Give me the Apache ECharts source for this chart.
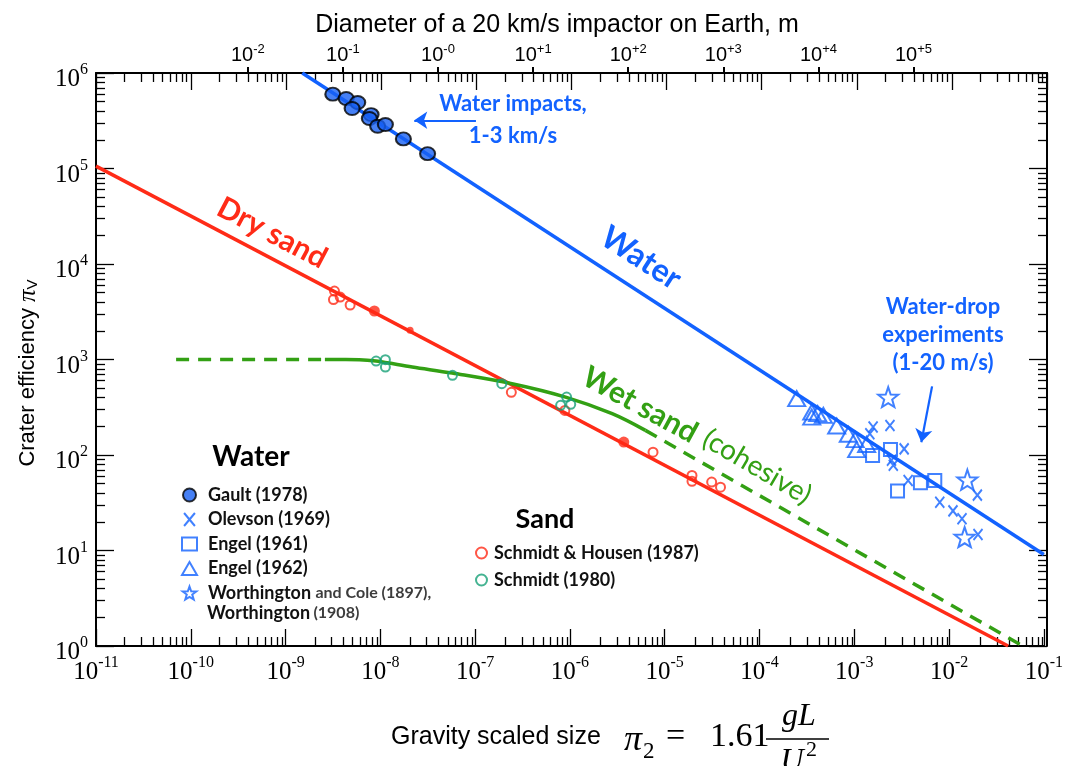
<!DOCTYPE html>
<html>
<head>
<meta charset="utf-8">
<script src="https://cdn.jsdelivr.net/npm/echarts@6/dist/echarts.min.js"></script>
<style>
  html, body { margin: 0; padding: 0; background: #fff; }
  #chart { width: 1066px; height: 766px; }
</style>
</head>
<body>
<div id="chart"></div>
<script>
// Crater efficiency pi_V against gravity-scaled size pi_2 (log-log),
// for water and sand targets, with the matching impactor diameter on top.

// ---- tick labels ----
const bottomTickExponents = [-11, -10, -9, -8, -7, -6, -5, -4, -3, -2, -1];
const leftTickExponents = [0, 1, 2, 3, 4, 5, 6];
const diameterTickExponents = [-2, -1, 0, 1, 2, 3, 4, 5];
const diameterTickLabels = ['-2', '-1', '-0', '+1', '+2', '+3', '+4', '+5'];

// ---- fitted curves [pi2, piV] ----
const waterFit = [[1.5e-9, 1.0e6], [1e-1, 9.1]];
const drySandFit = [[1e-11, 1.06e5], [0.042, 1.0]];
const wetSandFlat = [[7e-11, 1000], [2.6e-9, 1000]];
const wetSandCurve = [[2.6e-9, 1000], [6.0e-9, 996], [9.0e-9, 964], [2.17e-8, 834], [5.73e-8, 721],
  [2.45e-7, 558], [9.0e-7, 404], [2.79e-6, 271], [6.26e-6, 181]];
const wetSandExtrapolated = [[6.26e-6, 181], [0.060, 1.0]];

// ---- water data ----
const gault1978 = [[3.15e-9, 6.0e5], [4.36e-9, 5.41e5], [5.77e-9, 4.91e5], [5.04e-9, 4.25e5],
  [7.98e-9, 3.67e5], [7.66e-9, 3.34e5], [9.37e-9, 2.77e5], [1.13e-8, 2.89e5], [1.75e-8, 2.04e5], [3.15e-8, 1.43e5]];
const olevson1969 = [[1.58e-3, 196], [1.46e-3, 167], [2.38e-3, 204], [3.36e-3, 116], [2.47e-3, 88],
  [2.58e-3, 78], [3.70e-3, 54], [7.98e-3, 32], [1.10e-2, 26], [1.37e-2, 21.5], [1.99e-2, 38], [2.02e-2, 14.7]];
const engel1961 = [[1.56e-3, 99], [2.41e-3, 114], [2.86e-3, 41.9], [4.99e-3, 51.3], [7.07e-3, 54.2]];
const engel1962 = [[2.47e-4, 389], [3.56e-4, 281], [3.56e-4, 249], [4.11e-4, 271], [4.72e-4, 260],
  [6.52e-4, 201], [8.65e-4, 165], [1.02e-3, 145], [1.06e-3, 114], [1.35e-3, 129]];
const worthington = [[2.28e-3, 404], [1.56e-2, 55], [1.46e-2, 13.8]];

// ---- sand data ----
const schmidtHousen1987 = [[3.28e-9, 5210], [3.20e-9, 4240], [3.77e-9, 4510], [4.80e-9, 3720],
  [2.41e-7, 453], [8.85e-7, 293], [7.53e-6, 107], [1.94e-5, 61], [1.94e-5, 53], [3.13e-5, 52], [3.88e-5, 46]];
const drySandLarge = [[8.65e-9, 3220], [3.70e-6, 136.5]];
const drySandSmall = [[2.06e-8, 2020]];
const schmidt1980 = [[9.02e-9, 963], [1.13e-8, 996], [1.13e-8, 834], [5.77e-8, 682], [1.91e-7, 558],
  [9.23e-7, 404], [7.98e-7, 331], [1.02e-6, 339]];

// ---- annotation arrows [from, to] ----
const impactArrow = [[1.02e-7, 3.2e5], [2.28e-8, 3.2e5]];
const dropArrow = [[6.62e-3, 523], [5.1e-3, 136]];

// pi2 = 1.61 g L / U^2 for a 20 km/s impactor on Earth
const PI2_PER_METRE = 1.61 * 9.81 / (20000 * 20000);

const toLog = pts => pts.map(([x, y]) => [Math.log10(x), Math.log10(y)]);

const SERIF = "'Liberation Serif', 'DejaVu Serif', serif";
const SANS = "'Liberation Sans', Arial, sans-serif";
const HUM = "Lato, 'Open Sans', sans-serif";
const BLUE = '#1262ff', RED = '#ff2b17', GREEN = '#33a014', TEAL = '#17a077';

function minorTicks(lo, hi) {
  const out = [];
  for (let k = lo; k < hi; k++) for (let m = 2; m <= 9; m++) out.push(k + Math.log10(m));
  return out;
}
const xMin = bottomTickExponents[0], xMax = bottomTickExponents[bottomTickExponents.length - 1];
const yMin = leftTickExponents[0], yMax = leftTickExponents[leftTickExponents.length - 1];

const powerRich = {
  b: { fontFamily: SERIF, fontSize: 25, lineHeight: 30, verticalAlign: 'bottom', color: '#000' },
  s: { fontFamily: SERIF, fontSize: 16, lineHeight: 14, verticalAlign: 'top', color: '#000' }
};
const tickLine = { color: '#000', width: 1.3 };
const frameLine = { show: true, onZero: false, lineStyle: { color: '#000', width: 2 } };

// every frame side lives in its own overlaid grid so that ticks of
// different lengths can share a side
const plotBox = { left: 96, right: 19, top: 73, bottom: 120 };
const grids = [0, 1, 2, 3, 4].map(() => Object.assign({}, plotBox));

function bare(gridIndex, extra) {
  return Object.assign({
    type: 'value', gridIndex, splitLine: { show: false }, axisLine: { show: false, onZero: false },
    axisTick: { show: false }, axisLabel: { show: false }
  }, extra);
}

const STAR = 'path://M0,-10L2.35,-3.24L9.51,-3.09L3.8,1.24L5.88,8.09L0,4.6L-5.88,8.09L-3.8,1.24L-9.51,-3.09L-2.35,-3.24Z';
const CROSS = 'path://M0,0L10,12M10,0L0,12';
const hollow = c => ({ color: 'rgba(255,255,255,0)', borderColor: c, borderWidth: 2 });

function curve(name, data, color, dashed) {
  return {
    name, type: 'line', data: toLog(data), symbol: 'none', silent: true, z: 2,
    smooth: data.length > 2 ? 0.35 : false,
    lineStyle: { color, width: 3.5, type: dashed ? [13, 9] : 'solid', cap: 'butt' }
  };
}
function points(name, data, symbol, size, itemStyle, z) {
  return { name, type: 'scatter', data: toLog(data), symbol, symbolSize: size, itemStyle, z: z || 5, silent: true };
}

function legendText(pad) {
  return {
    fontFamily: HUM, fontWeight: 'bold', fontSize: 18, color: '#111',
    rich: {
      t: { fontFamily: HUM, fontWeight: 'bold', fontSize: 18, color: '#111', padding: [0, 0, 0, pad] },
      g: { fontFamily: HUM, fontWeight: 'bold', fontSize: 16, color: '#3c3c3c' }
    }
  };
}
const legendFormatter = name => name.indexOf('Worthington') === 0
  ? '{t|Worthington} {g|and Cole (1897),}' : '{t|' + name + '}';

const option = {
  animation: false,
  backgroundColor: '#fff',
  grid: grids,
  xAxis: [
    bare(0, {
      position: 'bottom', min: xMin, max: xMax, interval: 1, axisLine: frameLine,
      axisTick: { show: true, inside: true, length: 17, lineStyle: tickLine },
      axisLabel: { show: true, margin: 9, formatter: v => '{b|10}{s|' + Math.round(v) + '}', rich: powerRich }
    }),
    bare(1, { position: 'bottom', min: xMin, max: xMax,
      axisTick: { show: true, inside: true, length: 9, lineStyle: tickLine, customValues: minorTicks(xMin, xMax) } }),
    bare(2, { position: 'top', min: xMin, max: xMax, interval: 1, axisLine: frameLine,
      axisTick: { show: true, inside: true, length: 17, lineStyle: tickLine } }),
    bare(3, { position: 'top', min: xMin, max: xMax,
      axisTick: { show: true, inside: true, length: 9, lineStyle: tickLine, customValues: minorTicks(xMin, xMax) } }),
    bare(4, {
      position: 'top',
      min: xMin - Math.log10(PI2_PER_METRE), max: xMax - Math.log10(PI2_PER_METRE),
      axisTick: { show: true, inside: false, length: 6, lineStyle: { color: '#000', width: 2 }, customValues: diameterTickExponents },
      axisLabel: {
        show: true, margin: 8, customValues: diameterTickExponents,
        formatter: v => '{b|10}{s|' + diameterTickLabels[diameterTickExponents.indexOf(Math.round(v))] + '}',
        rich: {
          b: { fontFamily: SANS, fontSize: 20, lineHeight: 22, verticalAlign: 'bottom', color: '#000' },
          s: { fontFamily: SANS, fontSize: 13, lineHeight: 12, verticalAlign: 'top', color: '#000' }
        }
      }
    })
  ],
  yAxis: [
    bare(0, {
      position: 'left', min: yMin, max: yMax, interval: 1, axisLine: frameLine,
      axisTick: { show: true, inside: true, length: 18, lineStyle: tickLine },
      axisLabel: { show: true, margin: 8, padding: [8, 0, 0, 0], formatter: v => '{b|10}{s|' + Math.round(v) + '}', rich: powerRich }
    }),
    bare(1, { position: 'left', min: yMin, max: yMax,
      axisTick: { show: true, inside: true, length: 9, lineStyle: tickLine, customValues: minorTicks(yMin, yMax) } }),
    bare(2, { position: 'right', min: yMin, max: yMax, interval: 1, axisLine: frameLine,
      axisTick: { show: true, inside: true, length: 18, lineStyle: tickLine } }),
    bare(3, { position: 'right', min: yMin, max: yMax,
      axisTick: { show: true, inside: true, length: 9, lineStyle: tickLine, customValues: minorTicks(yMin, yMax) } }),
    bare(4, { position: 'left', min: yMin, max: yMax })
  ],
  legend: [
    {
      orient: 'vertical', left: 176, top: 481, itemWidth: 15, itemHeight: 13, itemGap: 6.5,
      selectedMode: false, textStyle: legendText(6), formatter: legendFormatter,
      data: ['Gault (1978)', 'Olevson (1969)', 'Engel (1961)', 'Engel (1962)',
        'Worthington and Cole (1897), Worthington (1908)']
    },
    {
      orient: 'vertical', left: 470, top: 539, itemWidth: 11, itemHeight: 11, itemGap: 9,
      selectedMode: false, textStyle: legendText(2), formatter: legendFormatter,
      data: ['Schmidt & Housen (1987)', 'Schmidt (1980)']
    }
  ],
  series: [
    Object.assign(curve('Water', waterFit, BLUE), {
      markLine: {
        silent: true, symbol: ['none', 'arrow'], symbolSize: 13,
        label: { show: false }, lineStyle: { color: BLUE, width: 2.2, type: 'solid' },
        data: [
          [{ coord: toLog(impactArrow)[0] }, { coord: toLog(impactArrow)[1] }],
          [{ coord: toLog(dropArrow)[0] }, { coord: toLog(dropArrow)[1] }]
        ]
      }
    }),
    curve('Dry sand', drySandFit, RED),
    curve('Wet sand (flat)', wetSandFlat, GREEN, true),
    curve('Wet sand', wetSandCurve, GREEN),
    curve('Wet sand (cohesive)', wetSandExtrapolated, GREEN, true),
    points('Schmidt & Housen (1987)', schmidtHousen1987, 'circle', 9, hollow(RED)),
    points('Dry sand large', drySandLarge, 'circle', 11, { color: RED }),
    points('Dry sand small', drySandSmall, 'circle', 7, { color: RED }),
    points('Schmidt (1980)', schmidt1980, 'circle', 9, hollow(TEAL)),
    points('Engel (1962)', engel1962, 'triangle', [17, 15], hollow(BLUE)),
    points('Engel (1961)', engel1961, 'rect', 13, hollow(BLUE)),
    points('Olevson (1969)', olevson1969, CROSS, [9, 11], hollow(BLUE)),
    points('Worthington and Cole (1897), Worthington (1908)', worthington, STAR, 20, hollow(BLUE)),
    points('Gault (1978)', gault1978, 'circle', [15, 13], { color: '#1860f2', borderColor: '#000', borderWidth: 2 }, 6)
  ],
  graphic: [
    // axis titles
    { type: 'text', x: 557, y: 25, style: { text: 'Diameter of a 20 km/s impactor on Earth, m', font: '25px ' + SANS, fill: '#000', align: 'center', verticalAlign: 'middle' } },
    { type: 'text', x: 28, y: 373, rotation: Math.PI / 2,
      style: { text: '{a|Crater efficiency }{p|π}{v|V}', align: 'center', verticalAlign: 'middle',
        rich: { a: { fontFamily: SANS, fontSize: 22, fill: '#000' },
                p: { fontFamily: SERIF, fontStyle: 'italic', fontSize: 25, fill: '#000' },
                v: { fontFamily: SANS, fontSize: 15, fill: '#000', verticalAlign: 'bottom', lineHeight: 20 } } } },
    { type: 'text', x: 391, y: 737, style: { text: 'Gravity scaled size', font: '25px ' + SANS, fill: '#000', align: 'left', verticalAlign: 'middle' } },
    { type: 'text', x: 624, y: 741, style: { text: 'π', font: 'italic 36px ' + SERIF, fill: '#000', align: 'left', verticalAlign: 'middle' } },
    { type: 'text', x: 643, y: 752, style: { text: '2', font: '23px ' + SERIF, fill: '#000', align: 'left', verticalAlign: 'middle' } },
    { type: 'text', x: 666, y: 737, style: { text: '=', font: '34px ' + SERIF, fill: '#000', align: 'left', verticalAlign: 'middle' } },
    { type: 'text', x: 710, y: 737, style: { text: '1.61', font: '34px ' + SERIF, fill: '#000', align: 'left', verticalAlign: 'middle' } },
    { type: 'text', x: 799, y: 717, style: { text: 'gL', font: 'italic 32px ' + SERIF, fill: '#000', align: 'center', verticalAlign: 'middle' } },
    { type: 'line', shape: { x1: 766, y1: 739, x2: 829, y2: 739 }, style: { stroke: '#000', lineWidth: 1.5 } },
    { type: 'text', x: 792, y: 762, style: { text: 'U', font: 'italic 32px ' + SERIF, fill: '#000', align: 'center', verticalAlign: 'middle' } },
    { type: 'text', x: 806, y: 750, style: { text: '2', font: '22px ' + SERIF, fill: '#000', align: 'left', verticalAlign: 'middle' } },
    // curve names
    { type: 'text', x: 272, y: 233, rotation: -0.483, style: { text: 'Dry sand', font: 'bold 30px ' + HUM, fill: RED, align: 'center', verticalAlign: 'middle' } },
    { type: 'text', x: 641, y: 258, rotation: -0.574, style: { text: 'Water', font: 'bold 32px ' + HUM, fill: BLUE, align: 'center', verticalAlign: 'middle' } },
    { type: 'text', x: 640, y: 405, rotation: -0.50, style: { text: 'Wet sand', font: 'bold 30px ' + HUM, fill: GREEN, align: 'center', verticalAlign: 'middle' } },
    { type: 'text', x: 757, y: 467, rotation: -0.53, style: { text: '(cohesive)', font: '28px ' + HUM, fill: GREEN, align: 'center', verticalAlign: 'middle' } },
    // annotations
    { type: 'text', x: 513, y: 120, style: { text: 'Water impacts,\n1-3 km/s', font: 'bold 22px ' + HUM, lineHeight: 32, fill: BLUE, align: 'center', verticalAlign: 'middle' } },
    { type: 'text', x: 943, y: 335, style: { text: 'Water-drop\nexperiments\n(1-20 m/s)', font: 'bold 22px ' + HUM, lineHeight: 28, fill: BLUE, align: 'center', verticalAlign: 'middle' } },
    // legend headings and continuation line
    { type: 'text', x: 251, y: 457, style: { text: 'Water', font: 'bold 28px ' + HUM, fill: '#000', align: 'center', verticalAlign: 'middle' } },
    { type: 'text', x: 545, y: 519, style: { text: 'Sand', font: 'bold 27px ' + HUM, fill: '#000', align: 'center', verticalAlign: 'middle' } },
    { type: 'text', x: 207, y: 613, style: { text: '{t|Worthington} {g|(1908)}', align: 'left', verticalAlign: 'middle',
        rich: { t: { fontFamily: HUM, fontWeight: 'bold', fontSize: 18, fill: '#111' },
                g: { fontFamily: HUM, fontWeight: 'bold', fontSize: 16, fill: '#3c3c3c' } } } }
  ]
};

const chart = echarts.init(document.getElementById('chart'));
chart.setOption(option);
</script>
</body>
</html>
